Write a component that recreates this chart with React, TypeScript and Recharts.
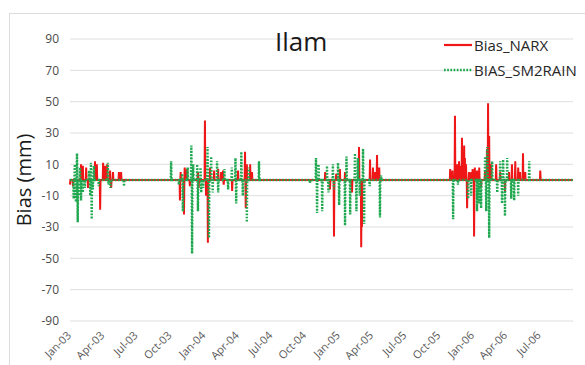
import React from "react";
import { LineChart, Line, XAxis, YAxis, CartesianGrid, Legend } from "recharts";

const startDate = "2003-01-01";
const endDate = "2006-09-30";

const tickDates = [
  "2003-01-01", "2003-04-01", "2003-07-01", "2003-10-01",
  "2004-01-01", "2004-04-01", "2004-07-01", "2004-10-01",
  "2005-01-01", "2005-04-01", "2005-07-01", "2005-10-01",
  "2006-01-01", "2006-04-01", "2006-07-01",
];
const tickLabels = [
  "Jan-03", "Apr-03", "Jul-03", "Oct-03",
  "Jan-04", "Apr-04", "Jul-04", "Oct-04",
  "Jan-05", "Apr-05", "Jul-05", "Oct-05",
  "Jan-06", "Apr-06", "Jul-06",
];
const yTicks = [-90, -70, -50, -30, -10, 10, 30, 50, 70, 90];

// [day since 2003-01-01, bias mm]; all other days are 0
const narxEvents: [number, number][] = [
  [0, -3], [8, -4], [30, 10], [35, 9], [44, 8], [49, -5], [68, 12], [73, 10], [82, -19],
  [90, 11], [95, 9], [101, 10], [109, 6], [112, -5], [117, 5], [133, 5], [139, 5],
  [299, -13], [301, 5], [310, -22], [312, 8], [318, 7], [326, -4], [348, 5], [350, -5],
  [367, 38], [370, -10], [375, -40], [381, 8], [392, 6], [403, 7], [411, 5], [416, 6],
  [418, -3], [441, -7], [457, 6], [476, 18], [478, -18], [481, 10], [490, 10], [495, 5],
  [694, 5], [707, -6], [718, -36], [724, 4], [734, 7], [748, 5], [767, -8], [786, 21],
  [792, -43], [794, -30], [816, 13], [824, 8], [830, 5], [835, 16], [841, 8],
  [1034, 7], [1040, 6], [1047, 41], [1050, 8], [1053, 10], [1058, 12], [1062, 9], [1066, 27],
  [1069, 12], [1072, 22], [1074, 14], [1077, 10], [1080, -18], [1085, 5], [1091, 5],
  [1095, 7], [1099, -36], [1101, 8], [1107, 6], [1113, 8], [1118, -5], [1129, 6],
  [1134, 20], [1137, 49], [1140, 28], [1145, 10], [1159, 10], [1170, 5], [1183, -8],
  [1194, 5], [1202, 10], [1211, 12], [1219, 8], [1224, 5], [1232, 17], [1238, 5], [1279, 6],
];

const sm2rainEvents: [number, number][] = [
  [10, -12], [13, 10], [16, -14], [19, 17], [21, -27], [24, -10], [27, 8], [30, -13],
  [35, -8], [40, -5], [52, 6], [55, -10], [57, 11], [59, -25], [62, -6], [65, 9],
  [78, -4], [103, 11], [105, -3], [110, -5], [147, -4],
  [275, 12], [296, -3], [305, 4], [307, -20], [320, 8], [330, 22], [332, -47], [335, 10],
  [346, 10], [348, -20], [355, 8], [357, -8], [362, -5], [374, 21], [378, -37], [384, 15],
  [388, -8], [400, 12], [403, -8], [420, 7], [430, -6], [440, 8], [450, 14], [452, -15],
  [466, 18], [470, -10], [481, -27], [486, 8], [514, 12],
  [653, -2], [669, 14], [672, -21], [676, 10], [686, -20], [699, 9], [703, -8], [715, 10],
  [718, -6], [729, 11], [732, -16], [748, -29], [752, 15], [762, -22], [775, 17],
  [779, -20], [783, 14], [788, -10], [797, 20], [800, -28], [815, -4], [843, -24], [846, 3],
  [1042, -25], [1055, -3], [1083, -12], [1091, -10], [1107, -20], [1113, -15], [1118, -18],
  [1129, 15], [1132, -20], [1135, 21], [1140, -37], [1148, 12], [1162, -8], [1170, 12],
  [1175, -15], [1178, 13], [1183, -23], [1189, 14], [1200, -12], [1208, -13], [1219, -10],
  [1249, 12],
];

const DAY = 86400000;
const dayOf = (s: string) => Math.round((Date.parse(s + "T00:00:00Z") - Date.parse(startDate + "T00:00:00Z")) / DAY);
const lastDay = dayOf(endDate);
const tickDays = tickDates.map(dayOf);

const data = Array.from({ length: lastDay + 1 }, (_, t) => ({ t, narx: 0, sm2rain: 0 }));
narxEvents.forEach(([d, v]) => { data[d].narx = v; });
sm2rainEvents.forEach(([d, v]) => { data[d].sm2rain = v; });

const RED = "#ee1616";
const GREEN = "#1fa850";
const FONT = "'Open Sans', 'Liberation Sans', sans-serif";

const XTick = (props: any) => {
  const { x, y, payload } = props;
  const i = tickDays.indexOf(payload.value);
  const ax = x + 2;
  const ay = y + 7;
  return (
    <text x={ax} y={ay} transform={`rotate(-45 ${ax} ${ay})`} textAnchor="end" fill="#595959" fontSize={11} fontFamily={FONT}>
      {i >= 0 ? tickLabels[i] : ""}
    </text>
  );
};

const LegendContent = () => (
  <div style={{ fontFamily: FONT, fontSize: 15, color: "#262626" }}>
    <div style={{ display: "flex", alignItems: "center", height: 22 }}>
      <svg width={30} height={6}><line x1={0} y1={3} x2={28} y2={3} stroke={RED} strokeWidth={2.2} /></svg>
      <span>Bias_NARX</span>
    </div>
    <div style={{ display: "flex", alignItems: "center", height: 22, marginTop: 3 }}>
      <svg width={30} height={6}><line x1={0} y1={3} x2={28} y2={3} stroke={GREEN} strokeWidth={2.4} strokeDasharray="1.7 1.5" /></svg>
      <span>BIAS_SM2RAIN</span>
    </div>
  </div>
);

export default function App() {
  return (
    <div style={{ position: "absolute", left: 0, top: 0, width: 585, height: 365, background: "#fff", overflow: "hidden" }}>
      <div style={{ position: "absolute", left: 9, top: 13, width: 600, height: 400, borderLeft: "1px solid #dcdcdc", borderTop: "1px solid #dcdcdc" }} />
      <LineChart width={585} height={365} data={data} margin={{ top: 39, right: 12, bottom: 0, left: 0 }}>
        <CartesianGrid vertical={false} stroke="#dedede" />
        <XAxis
          type="number"
          dataKey="t"
          domain={[0, lastDay]}
          ticks={tickDays}
          interval={0}
          tick={<XTick />}
          axisLine={false}
          tickLine={false}
          height={44}
        />
        <YAxis
          domain={[-90, 90]}
          ticks={yTicks}
          interval={0}
          width={70}
          axisLine={false}
          tickLine={false}
          tickSize={0}
          tickMargin={11}
          tick={{ fill: "#4a4a4a", fontSize: 12, fontFamily: FONT }}
          label={{ value: "Bias (mm)", angle: -90, position: "insideLeft", offset: 24, style: { fill: "#1a1a1a", fontSize: 20, fontFamily: FONT, textAnchor: "middle" } }}
        />
        <Legend layout="vertical" align="center" verticalAlign="middle" content={<LegendContent />} wrapperStyle={{ left: 444, top: 34, width: 150 }} />
        <Line type="linear" dataKey="narx" stroke={RED} strokeWidth={2} dot={false} isAnimationActive={false} />
        <Line type="linear" dataKey="sm2rain" stroke={GREEN} strokeWidth={2.4} strokeDasharray="1.7 1.5" dot={false} isAnimationActive={false} />
      </LineChart>
      <div style={{ position: "absolute", left: 275, top: 25, fontFamily: FONT, fontSize: 26, lineHeight: "32px", color: "#1a1a1a" }}>Ilam</div>
    </div>
  );
}
